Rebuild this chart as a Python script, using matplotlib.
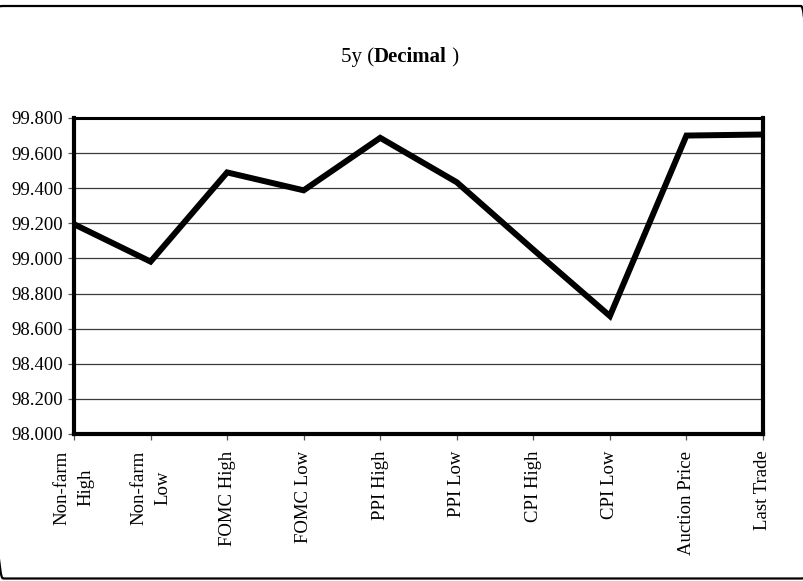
import matplotlib
matplotlib.use("Agg")
import matplotlib.pyplot as plt
from matplotlib.patches import FancyBboxPatch
from matplotlib.transforms import IdentityTransform
from matplotlib.offsetbox import TextArea, HPacker, AnchoredOffsetbox

categories = ["Non-farm\nHigh", "Non-farm\nLow", "FOMC High", "FOMC Low", "PPI High",
              "PPI Low", "CPI High", "CPI Low", "Auction Price", "Last Trade"]
values = [99.195, 98.982, 99.490, 99.388, 99.687, 99.434, 99.050, 98.672, 99.700, 99.706]
yticks = [98.0, 98.2, 98.4, 98.6, 98.8, 99.0, 99.2, 99.4, 99.6, 99.8]

plt.rcParams['font.family'] = ['Liberation Serif', 'DejaVu Serif']

W, H = 804, 581
fig = plt.figure(figsize=(W / 100, H / 100), dpi=100)

# outer rounded frame in pixel coordinates (side edges outside the canvas)
frame = FancyBboxPatch((-9, 2.5), W + 18, 572.5,
                       boxstyle="round,pad=0,rounding_size=12",
                       transform=IdentityTransform(), fill=False,
                       edgecolor='black', linewidth=1.6)
fig.patches.append(frame)

left, right, top, bottom = 74, 763, 118, 434
ax = fig.add_axes([left / W, (H - bottom) / H, (right - left) / W, (bottom - top) / H])

x = list(range(len(categories)))
ax.plot(x, values, color='black', linewidth=4.3, solid_joinstyle='miter', zorder=3)

ax.set_xlim(0, len(categories) - 1)
ax.set_ylim(98.0, 99.8)
ax.set_yticks(yticks)
ax.set_yticklabels([f"{v:.3f}" for v in yticks], fontsize=13.5)
ax.set_xticks(x)
ax.set_xticklabels(categories, rotation=90, fontsize=13.5, ha='center', va='top',
                   multialignment='center', linespacing=1.55)

for v in yticks[1:-1]:
    ax.axhline(v, color='#3a3a3a', linewidth=0.9, zorder=1)

for s in ax.spines.values():
    s.set_color('black')
    s.set_zorder(4)
ax.spines['left'].set_linewidth(3.0)
ax.spines['bottom'].set_linewidth(3.0)
ax.spines['right'].set_linewidth(3.0)
ax.spines['top'].set_linewidth(2.2)

ax.tick_params(axis='both', direction='out', length=4, width=0.9, color='#555555',
               labelcolor='black')
ax.tick_params(axis='y', pad=4)
ax.tick_params(axis='x', pad=8)

# title with bold part
title_x = 400 / W
tp = dict(fontsize=15, family=['Liberation Serif'])
t1 = TextArea("5y (", textprops=tp)
t2 = TextArea("Decimal", textprops=dict(tp, fontweight='bold'))
t3 = TextArea(" )", textprops=tp)
box = HPacker(children=[t1, t2, t3], align='baseline', pad=0, sep=0)
anch = AnchoredOffsetbox(loc='center', child=box, pad=0, frameon=False,
                         bbox_to_anchor=(title_x, (H - 57) / H),
                         bbox_transform=fig.transFigure, borderpad=0)
fig.add_artist(anch)

fig.savefig("out.png", dpi=100)
